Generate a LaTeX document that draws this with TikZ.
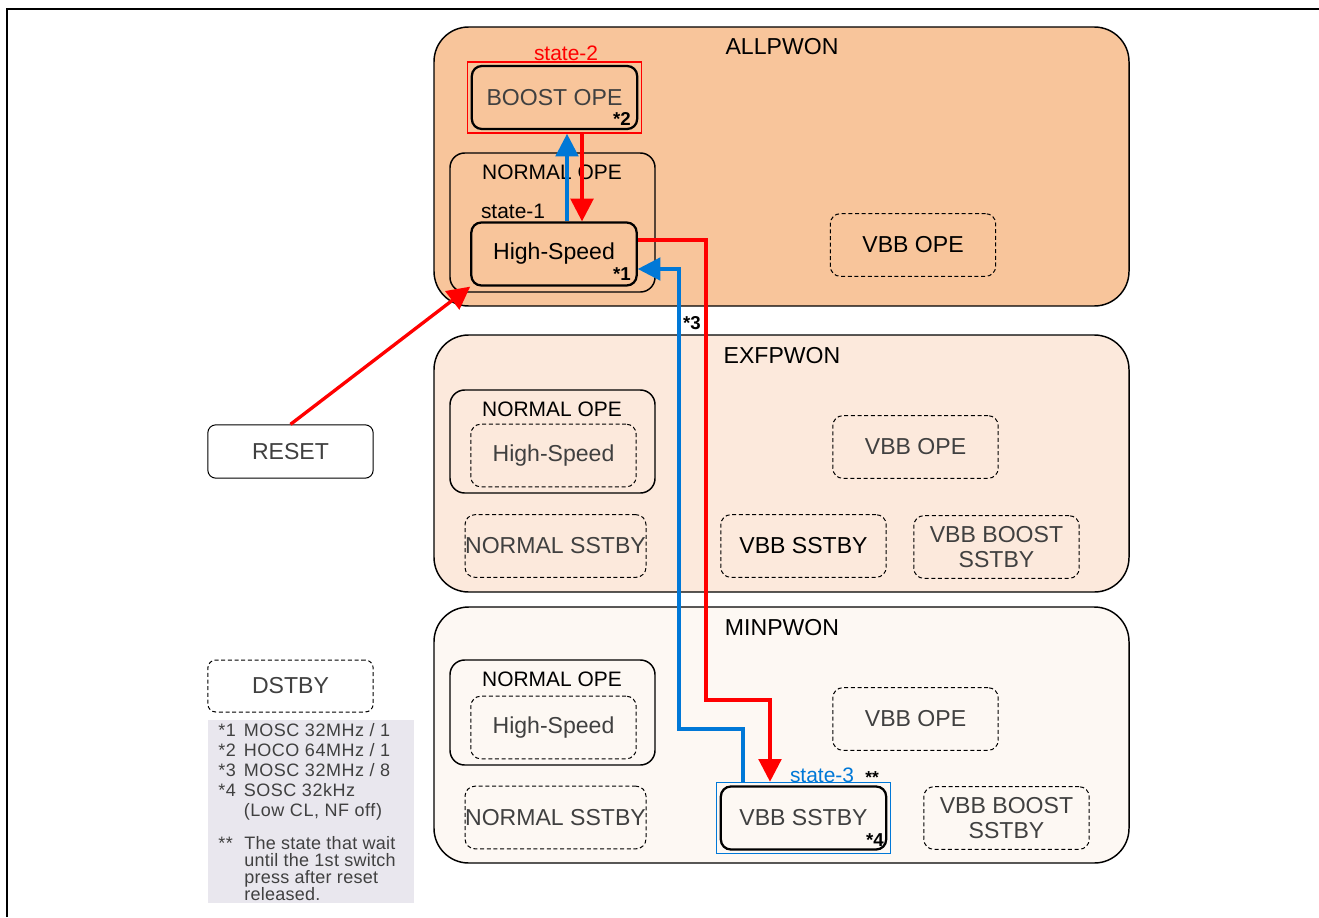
\documentclass[tikz,border=0pt]{standalone}
\usepackage{fontspec}
\setmainfont{Liberation Sans}
\usetikzlibrary{arrows.meta,fit}
\definecolor{allfill}{RGB}{248,197,155}
\definecolor{exffill}{RGB}{252,233,220}
\definecolor{minfill}{RGB}{253,248,243}
\definecolor{notefill}{RGB}{233,231,238}
\definecolor{stblue}{RGB}{0,120,215}
\definecolor{txtgray}{RGB}{64,64,64}
\begin{document}
\begin{tikzpicture}[x=0.75pt,y=0.75pt,yscale=-1,xscale=1,
  zone/.style={draw,line width=1.1pt,rounded corners=26pt,minimum width=521.25pt,inner sep=0pt},
  grp/.style={draw,line width=1.1pt,rounded corners=11pt,minimum width=153.75pt,inner sep=0pt},
  stbox/.style={draw,line width=1.7pt,rounded corners=7.5pt,minimum width=124pt,minimum height=47.25pt,inner sep=0pt,font=\fontsize{17.3}{19}\selectfont},
  dbox/.style={draw,dash pattern=on 3pt off 2pt,line width=0.75pt,rounded corners=7.5pt,minimum width=124pt,minimum height=47pt,inner sep=0pt,align=center,text=txtgray,font=\fontsize{17.3}{18.75}\selectfont},
  sidebox/.style={draw,line width=0.75pt,rounded corners=6pt,minimum width=124pt,minimum height=40pt,inner sep=0pt,text=txtgray,font=\fontsize{17.3}{19}\selectfont},
  title/.style={inner sep=0pt,font=\fontsize{17.3}{19}\selectfont},
  grptitle/.style={inner sep=0pt,font=\fontsize{15.7}{18}\selectfont},
  starlbl/.style={inner sep=0pt,anchor=base east,font=\fontsize{14}{16}\bfseries},
  notetext/.style={inner sep=0pt,text=txtgray,font=\fontsize{13.5}{15}\selectfont\addfontfeatures{LetterSpace=3}},
  redarr/.style={draw=red,line width=2.5pt,-{Triangle[length=17pt,width=17pt]}},
  bluearr/.style={draw=stblue,line width=2.5pt,-{Triangle[length=17pt,width=17pt]}}
]
\useasboundingbox (0,0) rectangle (1319,917);
%frame
\draw[line width=1.5pt] (7,917) -- (7,9) -- (1319,9);

%Shape: power domains
\node[zone,fill=allfill,minimum height=209.25pt] (allpwon) at (781.5,166.5) {};
\node[zone,fill=exffill,minimum height=192.75pt] (exfpwon) at (781.5,463.5) {};
\node[zone,fill=minfill,minimum height=192pt] (minpwon) at (781.5,735) {};
\node[title] (allttl) at (782,47) {ALLPWON};
\node[title] (exfttl) at (782,356) {EXFPWON};
\node[title] (minttl) at (782,628) {MINPWON};

%ALLPWON
\node[grp,minimum height=104.25pt] (allnorm) at (552.5,222.5) {};
\node[grptitle] (allnormttl) at (552,172) {NORMAL OPE};
\node[stbox,text=txtgray] (boost) at (554.5,97.5) {BOOST OPE};
\node[draw=red,line width=1pt,inner sep=2.25pt,fit=(boost)] (st2) {};
\node[inner sep=0pt,text=red,font=\fontsize{15.7}{18}\selectfont] (st2lbl) at (566,53) {state-2};
\node[starlbl] (star2) at (631,125) {*2};
\node[inner sep=0pt,font=\fontsize{15.7}{18}\selectfont] (st1lbl) at (513,211) {state-1};
\node[stbox] (allhs) at (554,254) {High-Speed};
\node[starlbl] (star1) at (631,280) {*1};
\node[dbox,text=black] (allvbb) at (913,245) {VBB OPE};

%EXFPWON
\node[grp,minimum height=77.25pt] (exfnorm) at (552.5,441.5) {};
\node[grptitle] (exfnormttl) at (552,409) {NORMAL OPE};
\node[dbox] (exfhs) at (553.5,455.5) {High-Speed};
\node[dbox,minimum width=135.75pt] (exfnss) at (555.5,546) {NORMAL SSTBY};
\node[dbox] (exfvbb) at (915.5,447) {VBB OPE};
\node[dbox,text=black] (exfvss) at (803.5,546) {VBB SSTBY};
\node[dbox] (exfvbss) at (996.5,547) {VBB BOOST\\SSTBY};

%MINPWON
\node[grp,minimum height=78.75pt] (minnorm) at (552.5,712.5) {};
\node[grptitle] (minnormttl) at (552,679) {NORMAL OPE};
\node[dbox] (minhs) at (553.5,727.5) {High-Speed};
\node[dbox,minimum width=135.75pt] (minnss) at (555.5,817.5) {NORMAL SSTBY};
\node[dbox] (minvbb) at (915.5,719) {VBB OPE};
\node[stbox,text=txtgray] (minvss) at (803.5,818) {VBB SSTBY};
\node[draw=stblue,line width=1pt,inner sep=2.25pt,fit=(minvss)] (st3) {};
\node[inner sep=0pt,text=stblue,font=\fontsize{15.7}{18}\selectfont] (st3lbl) at (822,775) {state-3};
\node[inner sep=0pt,font=\fontsize{13}{15}\bfseries] (dstar) at (872,778) {**};
\node[starlbl] (star4) at (884,846) {*4};
\node[dbox] (minvbss) at (1006.5,818) {VBB BOOST\\SSTBY};

%left side
\node[sidebox] (reset) at (290.5,451.5) {RESET};
\node[sidebox,dash pattern=on 3pt off 2pt,minimum height=39pt] (dstby) at (290.5,686) {DSTBY};
\node[fill=notefill,minimum width=154.5pt,minimum height=137.25pt,inner sep=0pt] (notes) at (311,811.5) {};
\node[notetext,anchor=north west] (clknote) at (218,722) {\begin{tabular}{@{}l@{\hspace{6pt}}l@{}}*1&MOSC 32MHz / 1\\{}*2&HOCO 64MHz / 1\\{}*3&MOSC 32MHz / 8\\{}*4&SOSC 32kHz\\&(Low CL, NF off)\end{tabular}};
\node[notetext,anchor=base west] (waitstar) at (218,849) {**};
\node[notetext,anchor=north west,align=left,font=\fontsize{13.5}{12.75}\selectfont\addfontfeatures{LetterSpace=1.5}] (waitnote) at (244,836) {The state that wait\\until the 1st switch\\press after reset\\released.};

%transitions
\draw[bluearr] (567,0 |- allhs.north) -- (567,0 |- st2.south);
\draw[redarr] (582,0 |- st2.south) -- (582,0 |- allhs.north);
\draw[redarr] (allhs.east |- 0,240) -| (706,700) -| (770,0 |- st3.north);
\draw[bluearr] (743,0 |- st3.north) |- (679,729) |- (allhs.east |- 0,269);
\draw[redarr] (reset.north) -- (allhs.south west);
\node[inner sep=0pt,font=\fontsize{14}{16}\bfseries] (star3) at (692,323) {*3};
\end{tikzpicture}
\end{document}
